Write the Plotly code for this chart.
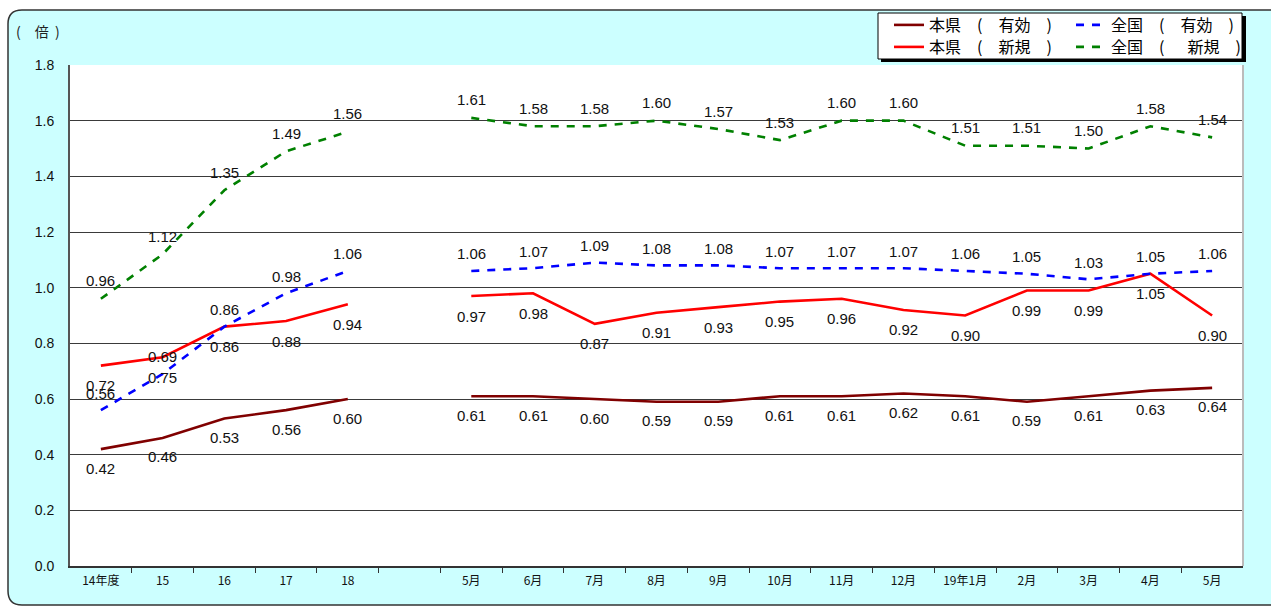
import plotly.graph_objects as go

# ---- data ----
categories = ["14年度", "15", "16", "17", "18", "",
              "5月", "6月", "7月", "8月", "9月", "10月", "11月", "12月",
              "19年1月", "2月", "3月", "4月", "5月"]

pref_active = [0.42, 0.46, 0.53, 0.56, 0.60, None,
               0.61, 0.61, 0.60, 0.59, 0.59, 0.61, 0.61, 0.62, 0.61, 0.59, 0.61, 0.63, 0.64]
pref_new = [0.72, 0.75, 0.86, 0.88, 0.94, None,
            0.97, 0.98, 0.87, 0.91, 0.93, 0.95, 0.96, 0.92, 0.90, 0.99, 0.99, 1.05, 0.90]
nat_active = [0.56, 0.69, 0.86, 0.98, 1.06, None,
              1.06, 1.07, 1.09, 1.08, 1.08, 1.07, 1.07, 1.07, 1.06, 1.05, 1.03, 1.05, 1.06]
nat_new = [0.96, 1.12, 1.35, 1.49, 1.56, None,
           1.61, 1.58, 1.58, 1.60, 1.57, 1.53, 1.60, 1.60, 1.51, 1.51, 1.50, 1.58, 1.54]

y_ticks = [0.0, 0.2, 0.4, 0.6, 0.8, 1.0, 1.2, 1.4, 1.6, 1.8]

# ---- layout geometry ----
W, H = 1271, 610
ML, MR, MT, MB = 70, 28, 65, 44
PW, PH = W - ML - MR, H - MT - MB


def xp(px):
    return (px - ML) / PW


def yp(py):
    return (H - MB - py) / PH


S = "\u3000"
N = "\u00a0"
xs = list(range(len(categories)))

series = [
    dict(name=f"本県{S}({S}有効{S})", y=pref_active, color="#800000", dash="solid",
         legend="legend", lx=889, ly=8, shift=-19),
    dict(name=f"本県{S}({S}新規{S})", y=pref_new, color="#FF0000", dash="solid",
         legend="legend2", lx=889, ly=30, shift=-20),
    dict(name=f"全国{S}({S}有効{S})", y=nat_active, color="#0000FF", dash="8px,8px",
         legend="legend3", lx=1071, ly=8, shift=17),
    dict(name=f"全国{S}({S}{N}{N}新規{S})", y=nat_new, color="#008000", dash="8px,8px",
         legend="legend4", lx=1071, ly=30, shift=18),
]

fig = go.Figure()
annotations = []
legends = {}
for s in series:
    fig.add_trace(go.Scatter(
        x=xs, y=s["y"], mode="lines", name=s["name"],
        line=dict(color=s["color"], width=2.6, dash=s["dash"]),
        connectgaps=False, legend=s["legend"], hoverinfo="skip",
    ))
    legends[s["legend"]] = dict(
        x=xp(s["lx"]), y=yp(s["ly"]), orientation="v", xanchor="left", yanchor="top",
        bgcolor="rgba(0,0,0,0)", borderwidth=0, itemwidth=30,
        font=dict(family="Noto Sans CJK JP", size=16, color="black"),
    )
    for xi, v in zip(xs, s["y"]):
        if v is None:
            continue
        annotations.append(dict(
            x=xi, y=v, xref="x", yref="y", text=f"{v:.2f}", showarrow=False,
            yshift=s["shift"], font=dict(family="Liberation Sans, Arial", size=15, color="#111111"),
        ))

annotations.append(dict(
    x=xp(14), y=yp(31), xref="paper", yref="paper", xanchor="left", yanchor="middle",
    text=f"({S}倍{N}{N})", showarrow=False,
    font=dict(family="Noto Sans CJK JP", size=14, color="#222222"),
))

# frame (rounded rectangle)
fx0, fx1, fy0, fy1, r = 8, 1300, 10, 605, 14
path = (
    f"M {xp(fx0 + r)},{yp(fy0)} L {xp(fx1)},{yp(fy0)} L {xp(fx1)},{yp(fy1)} "
    f"L {xp(fx0 + r)},{yp(fy1)} Q {xp(fx0)},{yp(fy1)} {xp(fx0)},{yp(fy1 - r)} "
    f"L {xp(fx0)},{yp(fy0 + r)} Q {xp(fx0)},{yp(fy0)} {xp(fx0 + r)},{yp(fy0)} Z"
)
shapes = [
    dict(type="path", path=path, xref="paper", yref="paper", fillcolor="#CCFFFF",
         line=dict(color="#333333", width=1.5), layer="below"),
    dict(type="rect", x0=0, x1=1, y0=0, y1=1, xref="paper", yref="paper",
         fillcolor="white", line=dict(width=0), layer="below"),
    dict(type="line", x0=1, x1=1, y0=0, y1=1, xref="paper", yref="paper",
         line=dict(color="#BBBBBB", width=2), layer="above"),
    # legend shadow + box
    dict(type="rect", x0=xp(881), x1=xp(1246), y0=yp(16), y1=yp(62), xref="paper", yref="paper",
         fillcolor="black", line=dict(width=0), layer="above"),
    dict(type="rect", x0=xp(878), x1=xp(1242), y0=yp(13), y1=yp(59), xref="paper", yref="paper",
         fillcolor="white", line=dict(color="black", width=1), layer="above"),
]

fig.update_layout(
    width=W, height=H,
    margin=dict(l=ML, r=MR, t=MT, b=MB, autoexpand=False),
    paper_bgcolor="white", plot_bgcolor="rgba(0,0,0,0)",
    showlegend=True,
    **legends,
    xaxis=dict(
        range=[-0.5, len(categories) - 0.5], tickmode="array", tickvals=xs, ticktext=categories,
        ticks="", showgrid=False, zeroline=False, showline=True, linecolor="#333333", linewidth=2,
        tickfont=dict(family="Noto Sans CJK JP", size=12, color="#111111"),
        ticklabelstandoff=3,
        minor=dict(tickmode="array", tickvals=[i + 0.5 for i in xs[:-1]], ticks="outside",
                   ticklen=5, tickcolor="#333333", tickwidth=1, showgrid=False),
    ),
    yaxis=dict(
        range=[0, 1.8], tickmode="array", tickvals=y_ticks, ticktext=[f"{v:.1f}" for v in y_ticks],
        showgrid=True, gridcolor="#3a3a3a", gridwidth=1, zeroline=False,
        showline=True, linecolor="#555555", linewidth=2, ticks="",
        tickfont=dict(family="Liberation Sans, Arial", size=14, color="#111111"),
        ticklabelstandoff=11,
    ),
    annotations=annotations,
    shapes=shapes,
)

fig.write_html("out.html")
